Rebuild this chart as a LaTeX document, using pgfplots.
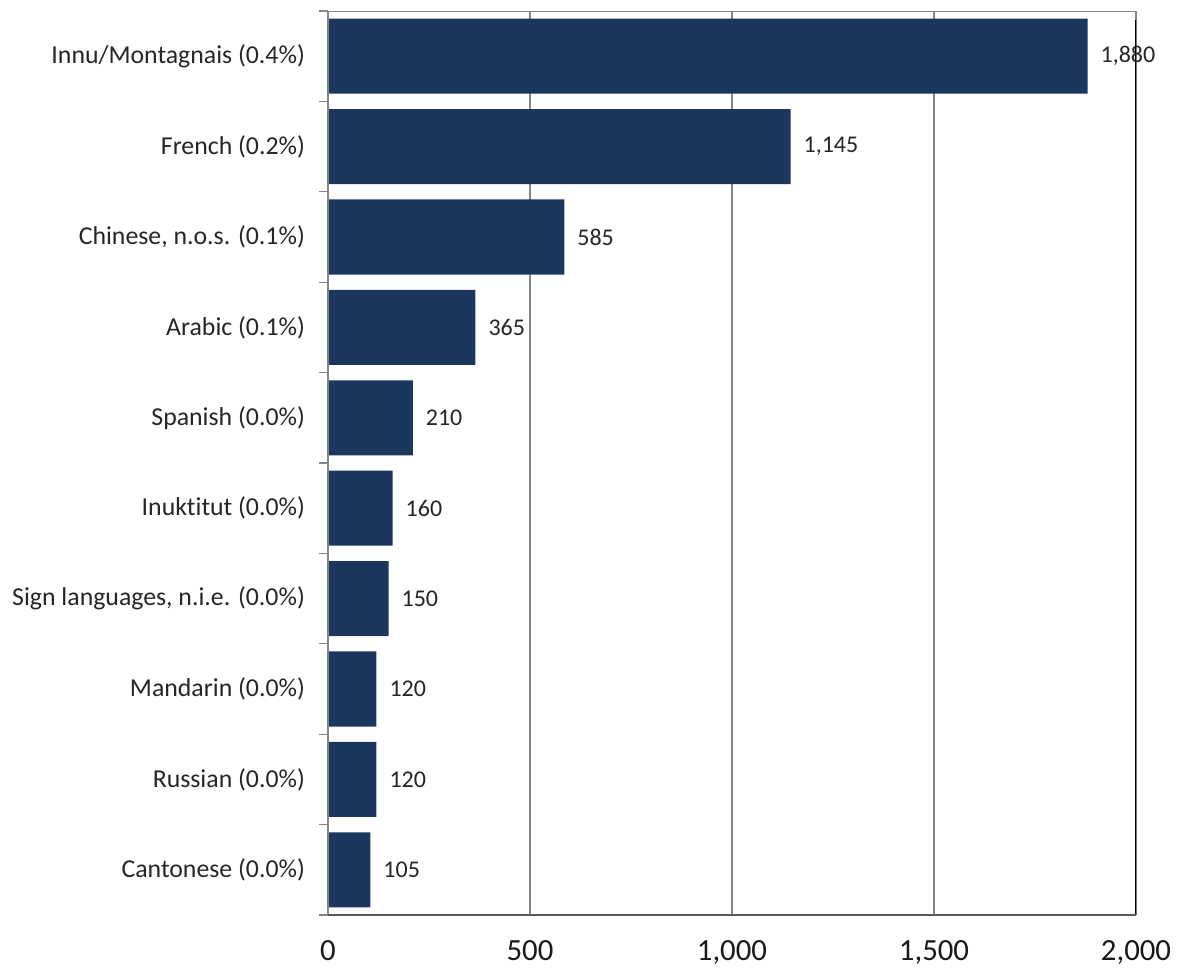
\documentclass[border=0pt]{standalone}
\usepackage{fontspec}
\setmainfont{Carlito}[Ligatures=NoCommon]
\usepackage{pgfplots}
\pgfplotsset{compat=1.18}
\definecolor{barc}{RGB}{27,55,93}
\definecolor{gridc}{RGB}{134,134,134}
\definecolor{botc}{RGB}{89,89,89}
\pgfplotstableread{
idx value
0 1880
1 1145
2 585
3 365
4 210
5 160
6 150
7 120
8 120
9 105
}\datatable
\begin{document}
\begin{tikzpicture}
\begin{axis}[
 at={(0,0)}, anchor=south west,
 scale only axis, width=404pt, height=452pt,
 xbar, bar width=0.83,
 xmin=0, xmax=2000, ymin=-0.5, ymax=9.5, y dir=reverse,
 xtick={0,500,1000,1500,2000},
 ytick={0,...,9},
 yticklabels={{Innu/Montagnais (0.4\%)},{French (0.2\%)},{Chinese, n.o.s. (0.1\%)},{Arabic (0.1\%)},{Spanish (0.0\%)},{Inuktitut (0.0\%)},{Sign languages, n.i.e. (0.0\%)},{Mandarin (0.0\%)},{Russian (0.0\%)},{Cantonese (0.0\%)}},
 minor ytick={-0.5,0.5,1.5,2.5,3.5,4.5,5.5,6.5,7.5,8.5,9.5},
 major tick length=0pt, minor tick length=4.5pt, tick align=outside, tick pos=left,
 minor tick style={color=gridc, line width=0.6pt},
 axis line style={draw=none},
 xmajorgrids, major grid style={color=gridc, line width=0.6pt},
 scaled x ticks=false,
 /pgf/number format/1000 sep={,},
 /pgf/number format/assume math mode=true,
 yticklabel style={font=\fontsize{12.9}{15}\selectfont, text=black!85, xshift=-8pt},
 xticklabel style={font=\fontsize{15.4}{18}\selectfont, text=black!90, yshift=-9pt},
 point meta=x,
 nodes near coords,
 nodes near coords style={font=\fontsize{12}{14}\selectfont, text=black!85, xshift=3pt},
]
\addplot[fill=barc, draw=none] table[x=value, y=idx] {\datatable};
\draw[gridc, line width=0.6pt] (axis cs:0,9.5) -- (axis cs:0,-0.5) -- (axis cs:2000,-0.5) -- (axis cs:2000,-0.4);
\draw[black, line width=0.8pt] (axis cs:2000,9.5) -- (axis cs:2000,-0.4);
\draw[botc, line width=1pt] (axis cs:0,9.5) -- (axis cs:2000,9.5);
\end{axis}
\pgfresetboundingbox
\path (-164pt,-28.5pt) rectangle (427.5pt,457.5pt);
\end{tikzpicture}
\end{document}
